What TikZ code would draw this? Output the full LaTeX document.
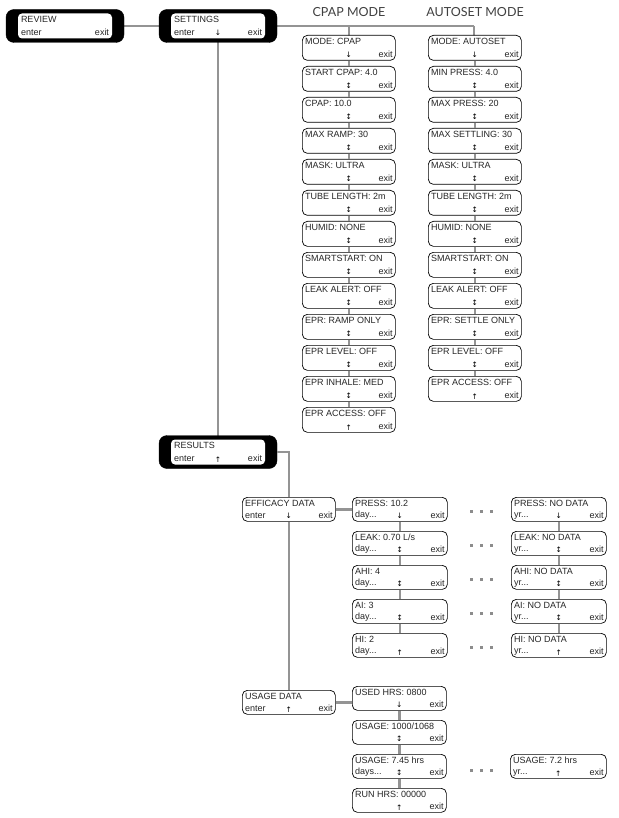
\documentclass[tikz,border=0pt]{standalone}
\usepackage{fontspec}
\setmainfont{Liberation Sans}
\newfontfamily\arrowfont{DejaVu Sans}
\newfontfamily\titlefont{Lato}
\begin{document}
\begin{tikzpicture}[x=1pt,y=-1pt,
  box/.style={draw=black, line width=0.7pt, fill=white, rounded corners=5pt, inner sep=0pt, anchor=north west},
  conn/.style={draw=black!42, line width=2.6pt},
  txt/.style={inner sep=0pt, font=\fontsize{9}{9.5}\selectfont, text=black!85},
  arr/.style={inner sep=0pt, font=\arrowfont\fontsize{7.5}{8}\selectfont},
  ttl/.style={inner sep=0pt, font=\titlefont\fontsize{12.5}{13}\selectfont, text=black!75}]
\useasboundingbox (0,0) rectangle (618,818);
\newcommand\bx[8]{%
  \node[box, minimum width=#4, minimum height=#5] (#1) at ({#2},{#3}) {};
  \node[txt, anchor=north west] (#1-l) at ([shift={(3,3)}]#1.north west) {#6};
  \node[txt, anchor=south west] (#1-s) at ([shift={(3,-2.5)}]#1.south west) {#7};
  \node[arr, anchor=south] (#1-a) at ([shift={(0,-2.5)}]#1.south) {#8};
  \node[txt, anchor=south east] (#1-e) at ([shift={(-3,-2.5)}]#1.south east) {exit};}
\newcommand\blk[5]{%
  \node[draw=black, fill=black, rounded corners=8pt, minimum width=118, minimum height=33, inner sep=0pt] (#1) at (#2,#3) {};
  \node[fill=white, rounded corners=4pt, minimum width=94, minimum height=25, inner sep=0pt] (#1-in) at (#2,#3) {};
  \node[txt, anchor=north west] (#1-l) at ([shift={(3,2.5)}]#1-in.north west) {#4};
  \node[txt, anchor=south west] (#1-s) at ([shift={(3,-2.5)}]#1-in.south west) {enter};
  \node[arr, anchor=south] (#1-a) at ([shift={(0,-2.5)}]#1-in.south) {#5};
  \node[txt, anchor=south east] (#1-e) at ([shift={(-3,-2.5)}]#1-in.south east) {exit};}
\coordinate (rv) at (65,26);
\coordinate (st) at (218,26);
\coordinate (rs) at (218,452);
\draw[conn] (rv) -- (st);
\draw[conn] (st) -- (rs);
\draw[conn] (st) -- (474,26) coordinate (aut);
\draw[conn] (349,26) coordinate (cpt) -- (349,40);
\draw[conn] (aut) -- (474,40);
\blk{review}{65}{26}{REVIEW}{}
\blk{settings}{218}{26}{SETTINGS}{↓}
\blk{results}{218}{452}{RESULTS}{↑}
\node[ttl] (t1) at (349,12) {CPAP MODE};
\node[ttl] (t2) at (475,12) {AUTOSET MODE};
\foreach \i/\lab/\a in {1/MODE: CPAP/↓,2/START CPAP: 4.0/↕,3/CPAP: 10.0/↕,4/MAX RAMP: 30/↕,5/MASK: ULTRA/↕,6/TUBE LENGTH: 2m/↕,7/HUMID: NONE/↕,8/SMARTSTART: ON/↕,9/LEAK ALERT: OFF/↕,10/EPR: RAMP ONLY/↕,11/EPR LEVEL: OFF/↕,12/EPR INHALE: MED/↕,13/EPR ACCESS: OFF/↑}{
  \bx{cp\i}{302}{35+31*(\i-1)}{93}{25}{\lab}{}{\a}
}
\foreach \i/\lab/\a in {1/MODE: AUTOSET/↓,2/MIN PRESS: 4.0/↕,3/MAX PRESS: 20/↕,4/MAX SETTLING: 30/↕,5/MASK: ULTRA/↕,6/TUBE LENGTH: 2m/↕,7/HUMID: NONE/↕,8/SMARTSTART: ON/↕,9/LEAK ALERT: OFF/↕,10/EPR: SETTLE ONLY/↕,11/EPR LEVEL: OFF/↕,12/EPR ACCESS: OFF/↑}{
  \bx{au\i}{428}{35+31*(\i-1)}{93}{25}{\lab}{}{\a}
}
\foreach \i [evaluate=\i as \j using int(\i+1)] in {1,...,12}{\draw[conn] (cp\i.south) -- (cp\j.north);}
\foreach \i [evaluate=\i as \j using int(\i+1)] in {1,...,11}{\draw[conn] (au\i.south) -- (au\j.north);}
\bx{eff}{242}{497}{93}{24}{EFFICACY DATA}{enter}{↓}
\bx{usage}{242}{690}{93}{24}{USAGE DATA}{enter}{↑}
\draw[conn] (results-in.east) ++(13,0) coordinate (rr) -| (eff.north);
\draw[conn] (results.east) -- (rr);
\draw[conn] (eff.south) -- (usage.north);
\foreach \i/\lab/\rl/\a in {1/PRESS: 10.2/PRESS: NO DATA/↓,2/{LEAK: 0.70 L/s}/LEAK: NO DATA/↕,3/AHI: 4/AHI: NO DATA/↕,4/AI: 3/AI: NO DATA/↕,5/HI: 2/HI: NO DATA/↑}{
  \bx{ed\i}{352}{497+34*(\i-1)}{95}{24}{\lab}{day...}{\a}
  \bx{ey\i}{511}{497+34*(\i-1)}{95}{24}{\rl}{yr...}{\a}
  \foreach \d in {0,1,2}{\fill[black!45] ({471+10*\d-1.5},{509+34*\i-34+2-1.5}) rectangle ++(3,3);}
}
\foreach \i [evaluate=\i as \j using int(\i+1)] in {1,...,4}{\draw[conn] (ed\i.south) -- (ed\j.north); \draw[conn] (ey\i.south) -- (ey\j.north);}
\draw[conn] (eff.east) -- (ed1.west);
\bx{u1}{352}{686}{94}{24}{USED HRS: 0800}{}{↓}
\bx{u2}{352}{720}{94}{24}{USAGE: 1000/1068}{}{↕}
\bx{u3}{352}{754}{94}{24}{USAGE: 7.45 hrs}{days...}{↕}
\bx{u4}{352}{788}{94}{24}{RUN HRS: 00000}{}{↑}
\bx{uy}{510}{754}{96}{24}{USAGE: 7.2 hrs}{yr...}{↑}
\foreach \d in {0,1,2}{\fill[black!45] ({471+10*\d-1.5},{770-1.5}) rectangle ++(3,3);}
\draw[conn] (usage.east) -- (usage.east -| u1.west);
\foreach \i [evaluate=\i as \j using int(\i+1)] in {1,...,3}{\draw[conn] (u\i.south) -- (u\j.north);}
\end{tikzpicture}
\end{document}
